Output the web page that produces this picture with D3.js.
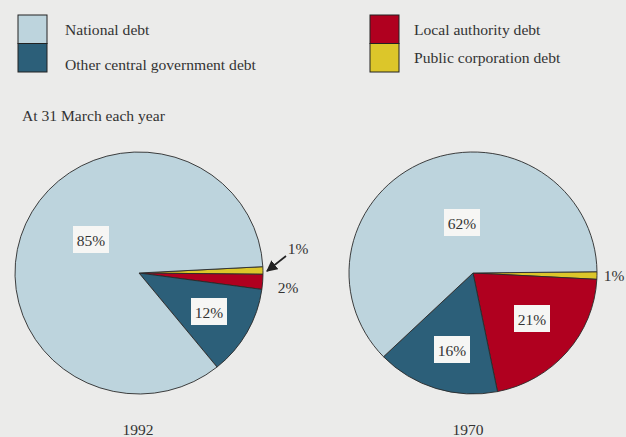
<!DOCTYPE html>
<html>
<head>
<meta charset="utf-8">
<script src="https://cdn.jsdelivr.net/npm/d3@7"></script>
<style>
  html, body { margin: 0; padding: 0; background: #ebebea; }
  svg { display: block; }
  text { font-family: "Liberation Serif", "Times New Roman", serif; fill: #333; }
</style>
</head>
<body>
<svg id="chart" width="626" height="437"></svg>
<script>
// Composition of public sector debt, share of total (%)
const categories = ["National debt", "Other central government debt", "Local authority debt", "Public corporation debt"];
const years = ["1992", "1970"];
const values1992 = [85, 12, 2, 1];
const values1970 = [62, 16, 21, 1];
const valueLabels1992 = ["85%", "12%", "2%", "1%"];
const valueLabels1970 = ["62%", "16%", "21%", "1%"];
const colors = ["#bdd4dd", "#2c5f79", "#b0001f", "#dcc62a"];

// Slices run clockwise from just above 3 o'clock: public corp, local authority, other central, national
const sliceOrder = [3, 2, 1, 0];

const svg = d3.select("#chart");
const W = 626, H = 437;
svg.append("rect").attr("width", W).attr("height", H).attr("fill", "#ebebea");

const color = d3.scaleOrdinal().domain(categories).range(colors);

// Legend: two stacked swatch pairs
const legendGroups = [
  { x: 18, textX: 65, items: [0, 1], textY: [35, 70] },
  { x: 370, textX: 414, items: [2, 3], textY: [35, 63] }
];
legendGroups.forEach(g => {
  const lg = svg.append("g");
  g.items.forEach((ci, k) => {
    lg.append("rect")
      .attr("x", g.x).attr("y", 15 + k * 28.5)
      .attr("width", 29).attr("height", 28.5)
      .attr("fill", color(categories[ci]))
      .attr("stroke", "#222").attr("stroke-width", 1);
    lg.append("text")
      .attr("x", g.textX).attr("y", g.textY[k])
      .attr("font-size", 15.6)
      .text(categories[ci]);
  });
});

svg.append("text")
  .attr("x", 22).attr("y", 121)
  .attr("font-size", 15.6)
  .text("At 31 March each year");

// Pies
const pies = [
  { year: years[0], values: values1992, labels: valueLabels1992, cx: 139, cy: 273, start: 87 },
  { year: years[1], values: values1970, labels: valueLabels1970, cx: 473, cy: 273, start: 89.4 }
];
const rx = 124, ry = 121;

// Label anchors relative to each pie centre: [dx, dy, boxed]
const labelPlacement = [
  { 0: [-48, -33, true], 1: [70, 39, true], 2: [149, 14, false], 3: [159, -25, false] },
  { 0: [-11, -50, true], 1: [-21, 77, true], 2: [59, 46, true], 3: [141, 2, false] }
];

svg.append("defs").append("marker")
  .attr("id", "arrowhead")
  .attr("viewBox", "0 0 10 10")
  .attr("refX", 9).attr("refY", 5)
  .attr("markerWidth", 7).attr("markerHeight", 7)
  .attr("orient", "auto")
  .append("path").attr("d", "M0,0 L10,5 L0,10 Z").attr("fill", "#222");

pies.forEach((p, pi) => {
  const data = sliceOrder.map(i => ({ cat: categories[i], value: p.values[i], label: p.labels[i], idx: i }));
  const start = p.start * Math.PI / 180;
  const pie = d3.pie().sort(null).value(d => d.value).startAngle(start).endAngle(start + 2 * Math.PI);
  const arc = d3.arc().innerRadius(0).outerRadius(rx);

  const g = svg.append("g").attr("transform", `translate(${p.cx},${p.cy})`);
  const shapes = g.append("g").attr("transform", `scale(1,${ry / rx})`);
  shapes.selectAll("path")
    .data(pie(data))
    .join("path")
    .attr("d", arc)
    .attr("fill", d => color(d.data.cat))
    .attr("stroke", "#2a2a2a")
    .attr("stroke-width", 0.9)
    .attr("vector-effect", "non-scaling-stroke")
    .attr("stroke-linejoin", "round");

  data.forEach(d => {
    const [dx, dy, boxed] = labelPlacement[pi][d.idx];
    if (boxed) {
      g.append("rect")
        .attr("x", dx - 18).attr("y", dy - 14)
        .attr("width", 36).attr("height", 27)
        .attr("fill", "#f6f6f4");
    }
    g.append("text")
      .attr("x", dx).attr("y", dy + 5.5)
      .attr("text-anchor", "middle")
      .attr("font-size", 15.5)
      .text(d.label);
  });

  g.append("text")
    .attr("x", pi === 0 ? -1 : -5).attr("y", 162)
    .attr("text-anchor", "middle")
    .attr("font-size", 15.5)
    .text(p.year);
});

// Pointer to the thin 1992 public corporation slice
svg.append("line")
  .attr("x1", 286).attr("y1", 256)
  .attr("x2", 267).attr("y2", 271)
  .attr("stroke", "#222").attr("stroke-width", 1.6)
  .attr("marker-end", "url(#arrowhead)");
</script>
</body>
</html>
